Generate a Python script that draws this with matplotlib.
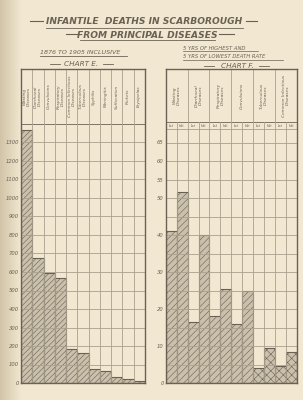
import numpy as np
import matplotlib
matplotlib.use("Agg")
from matplotlib import pyplot as plt
from matplotlib.lines import Line2D

# chart E: 1876 to 1905 inclusive
e_causes = ["Wasting\nDiseases", "Diarrhoeal\nDiseases", "Convulsions",
            "Respiratory\nDiseases", "Common Infectious\nDiseases",
            "Tuberculous\nDiseases", "Syphilis", "Meningitis",
            "Suffocation", "Rickets", "Erysipelas"]
e_deaths = [1365, 675, 595, 570, 182, 162, 75, 64, 34, 21, 11]
e_ticks = [0, 100, 200, 300, 400, 500, 600, 700, 800, 900, 1000, 1100, 1200, 1300]

# chart F: 5 yrs of highest and 5 yrs of lowest death rate
f_causes = ["Wasting\nDiseases", "Diarrhoeal\nDiseases", "Respiratory\nDiseases",
            "Convulsions", "Tuberculous\nDiseases", "Common Infectious\nDiseases"]
f_sub = ["Lst", "Hst"]
f_first = [41, 16.5, 18, 16, 4, 4.5]
f_second = [51.5, 40, 25.5, 25, 9.5, 8.5]
f_ticks = [0, 10, 20, 30, 40, 50, 55, 60, 65]

PAPER = "#f2e8d1"
INK = "#6a6155"
GRID = "#aaa08f"
BAR = "#cbc0ab"
HATCH = "#958b7a"

W, H = 303, 400
fig = plt.figure(figsize=(W / 100, H / 100), dpi=100)
fig.patch.set_facecolor(PAPER)

# paper background with shadow at the fold on the left
bg = fig.add_axes([0, 0, 1, 1], zorder=-10)
grad = np.linspace(0, 1, 300)
shade = np.clip(grad / 0.07, 0, 1)
img = np.ones((2, 300, 3))
c0 = np.array([0.82, 0.77, 0.66])
c1 = np.array([0.95, 0.91, 0.82])
img[:] = c0 + (c1 - c0) * shade[None, :, None]
bg.imshow(img, aspect="auto", extent=[0, 1, 0, 1])
bg.axis("off")

plt.rcParams["hatch.color"] = HATCH
plt.rcParams["hatch.linewidth"] = 0.4


def px_axes(x0, y0, x1, y1):
    # pixel box (top-left origin) -> figure axes
    return fig.add_axes([x0 / W, 1 - y1 / H, (x1 - x0) / W, (y1 - y0) / H])


def ftext(x, y, s, size, **kw):
    fig.text(x / W, 1 - y / H, s, fontsize=size, style="italic", color=INK, **kw)


def fline(x0, x1, y, lw=0.6):
    fig.add_artist(Line2D([x0 / W, x1 / W], [1 - y / H, 1 - y / H],
                          color=INK, lw=lw))


def style_box(ax):
    ax.set_facecolor("none")
    for s in ax.spines.values():
        s.set_color(INK)
        s.set_linewidth(1.0)
    ax.tick_params(length=0, labelsize=3.8, labelcolor=INK, pad=1.5)
    ax.set_xticks([])
    for lab in ax.get_yticklabels():
        lab.set_style("italic")


# titles
ftext(144, 22, "INFANTILE  DEATHS IN SCARBOROUGH", 6.6, ha="center", va="center",
      fontweight="semibold")
fline(46, 243, 28)
fline(30, 43, 21, 0.8)
fline(246, 257, 21, 0.8)
ftext(147, 35, "FROM PRINCIPAL DISEASES", 6.6, ha="center", va="center",
      fontweight="semibold")
fline(80, 215, 40)
fline(66, 78, 34, 0.8)
fline(219, 234, 34, 0.8)
ftext(40, 52, "1876 TO 1905 INCLUSIVE", 4.6, ha="left", va="center")
fline(40, 127, 56)
ftext(81, 64, "CHART E.", 5.2, ha="center", va="center")
fline(50, 60, 64)
fline(103, 113, 64)
ftext(183, 48, "5 YRS OF HIGHEST AND", 3.8, ha="left", va="center")
fline(183, 258, 51, 0.5)
ftext(183, 57, "5 YRS OF LOWEST DEATH RATE", 3.8, ha="left", va="center")
fline(183, 283, 60, 0.5)
ftext(237, 66, "CHART F.", 5.2, ha="center", va="center")
fline(204, 214, 66)
fline(259, 269, 66)

# ---- chart E ----
top, base = 69, 383
axE = px_axes(21, top, 145, base)
e_scale = 18.5 / 100  # px per death
axE.set_xlim(0, len(e_deaths))
emax = (base - top) / e_scale
axE.set_ylim(0, emax)
x = np.arange(len(e_deaths))
axE.bar(x + 0.5, e_deaths, width=1.0, color=BAR, edgecolor=INK, linewidth=0.8,
        hatch="//////", zorder=1)
for v in range(100, 1500, 100):
    axE.axhline(v, color=GRID if v < 1400 else INK, lw=0.6, zorder=2)
for i in range(1, len(e_deaths)):
    axE.axvline(i, color=GRID, lw=0.6, zorder=2)
for i, name in enumerate(e_causes):
    axE.text(i + 0.5, (1400 + emax) / 2, name, rotation=90,
             ha="center", va="center", fontsize=3.1, style="italic",
             color=INK, linespacing=1.0, multialignment="center")
axE.set_yticks(e_ticks)
axE.set_yticklabels([str(t) for t in e_ticks])
style_box(axE)

# ---- chart F ----
axF = px_axes(165.7, top, 297, base)
f_scale = 3.7  # px per unit
n = len(f_first)
axF.set_xlim(0, 2 * n)
fmax = (base - top) / f_scale
axF.set_ylim(0, fmax)
xf = np.arange(n) * 2
hatches = ["/////"] * 4 + ["xxxx"] * 2
axF.bar(xf + 0.5, f_first, width=1.0, color=BAR, edgecolor=INK, linewidth=0.8,
        hatch=hatches, zorder=1)
axF.bar(xf + 1.5, f_second, width=1.0, color=BAR, edgecolor=INK, linewidth=0.8,
        hatch=hatches, zorder=1)
y_head = (base - 122) / f_scale
y_sub = (base - 129) / f_scale
for v in np.arange(5, 70, 5):
    if v < y_sub:
        axF.axhline(v, color=GRID, lw=0.6, zorder=2)
axF.axhline(y_head, color=INK, lw=0.6, zorder=2)
axF.axhline(y_sub, color=GRID, lw=0.6, zorder=2)
for i in range(1, 2 * n):
    if i % 2 == 0:
        axF.axvline(i, color=GRID, lw=0.6, zorder=2)
    else:
        axF.plot([i, i], [0, y_head], color=GRID, lw=0.6, zorder=2)
for k, name in enumerate(f_causes):
    axF.text(2 * k + 1, (y_head + fmax) / 2, name, rotation=90,
             ha="center", va="center", fontsize=3.2, style="italic",
             color=INK, linespacing=1.0, multialignment="center")
    for j, s in enumerate(f_sub):
        axF.text(2 * k + j + 0.5, (y_head + y_sub) / 2, s, ha="center",
                 va="center", fontsize=2.4, style="italic", color=INK)
axF.set_yticks(f_ticks)
axF.set_yticklabels([str(t) for t in f_ticks])
style_box(axF)

fig.savefig("out.png", dpi=100, facecolor=PAPER)
